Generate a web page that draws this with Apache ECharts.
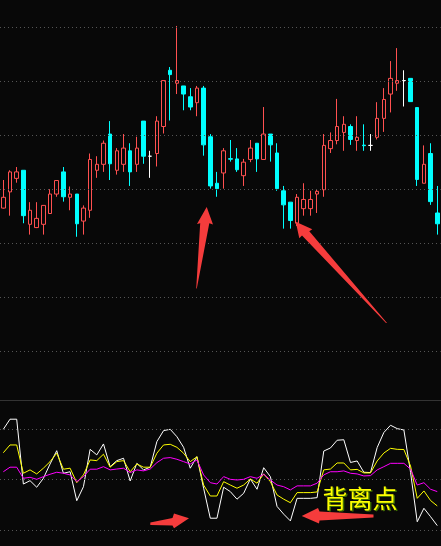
<!DOCTYPE html>
<html><head><meta charset="utf-8">
<script src="https://cdn.jsdelivr.net/npm/echarts@6/dist/echarts.min.js"></script>
<style>html,body{margin:0;padding:0;background:#080808;}#c{width:441px;height:546px;}</style>
</head><body><div id="c"></div>
<script>
const categories = ['1','2','3','4','5','6','7','8','9','10','11','12','13','14','15','16','17','18','19','20','21','22','23','24','25','26','27','28','29','30','31','32','33','34','35','36','37','38','39','40','41','42','43','44','45','46','47','48','49','50','51','52','53','54','55','56','57','58','59','60','61','62','63','64','65','66'];
const openPrices = [11.65,11.95,12.20,12.35,11.35,11.29,11.35,11.55,11.91,12.32,
  11.85,11.91,11.41,11.61,12.35,12.46,13.02,12.35,12.46,12.71,
  12.46,13.26,12.61,12.66,13.16,14.20,13.96,13.91,13.71,13.60,
  13.87,12.97,12.11,12.30,12.565,12.56,12.25,12.55,12.85,12.55,
  13.02,12.67,11.97,11.76,11.37,11.64,11.64,11.91,11.99,12.75,
  12.90,13.05,13.16,12.90,12.815,12.81,12.96,13.31,13.76,13.96,
  14.01,14.05,13.51,12.11,12.66,11.56];
const closePrices = [11.85,12.32,12.32,11.51,11.61,11.46,11.70,11.91,12.16,11.86,
  11.91,11.36,11.65,12.55,12.46,12.85,12.47,12.71,12.76,12.32,
  12.76,12.61,12.61,13.26,14.01,14.12,14.01,13.76,13.52,13.87,
  12.82,12.06,12.01,12.71,12.555,12.36,12.50,12.76,12.56,13.02,
  12.82,12.01,11.71,11.42,11.85,11.81,11.81,11.96,12.81,12.90,
  13.16,13.20,12.92,12.96,12.805,12.81,13.31,13.66,14.05,14.01,
  14.01,13.62,12.18,12.46,11.77,11.36];
const lowPrices = [11.64,11.51,12.12,11.37,11.16,11.28,11.16,11.55,11.86,11.77,
  11.61,11.12,11.16,11.47,12.21,12.32,12.17,12.27,12.32,12.06,
  12.32,12.47,12.21,12.42,13.03,13.27,13.76,13.46,13.46,13.35,
  12.62,12.01,11.86,12.01,12.51,12.32,12.06,12.50,12.32,12.55,
  12.51,11.97,11.27,11.27,11.32,11.51,11.51,11.56,11.86,12.67,
  12.83,12.71,12.82,12.71,12.71,12.71,12.92,13.06,13.42,13.82,
  13.53,13.62,12.06,12.11,11.71,11.16];
const highPrices = [12.17,12.35,12.41,12.35,11.76,11.76,11.70,12.00,12.16,12.41,
  12.05,11.91,11.70,12.66,12.61,12.90,13.26,12.76,13.02,12.85,
  12.97,13.26,12.71,13.35,14.01,14.26,15.02,13.91,13.87,13.91,
  13.91,13.02,12.32,12.76,12.91,12.76,12.56,12.91,12.85,13.52,
  13.02,12.85,12.06,11.76,11.91,12.11,11.97,12.00,13.02,13.05,
  13.67,13.35,13.20,13.35,13.20,13.02,13.61,13.87,14.37,14.61,
  14.20,14.05,13.51,12.81,12.85,12.06];
const whiteLine = [79.8,85.8,85.8,47.3,49.3,45.4,50.7,59.2,67.1,53.7,
  54.6,37.4,45.7,67.9,64.6,71.1,57.6,61.2,62.6,49.1,
  59.6,55.7,57.3,72.5,79.0,79.8,75.4,69.1,56.7,63.5,
  44.8,27.0,27.0,45.4,42.8,38.3,41.8,50.3,44.2,57.0,
  51.7,34.0,29.4,25.4,38.8,38.8,38.8,39.2,66.9,68.7,
  73.3,73.6,60.1,61.0,54.3,54.1,69.0,77.9,82.2,80.2,
  79.4,54.2,24.9,32.9,27.9,22.6];
const yellowLine = [65.9,70.5,70.5,53.7,55.7,53.3,56.7,60.6,65.6,56.1,
  56.7,48.1,52.7,61.6,61.2,65.0,57.3,60.6,61.2,54.6,
  59.2,57.3,57.3,65.6,70.5,70.9,69.1,65.6,60.6,63.5,
  46.7,40.2,40.2,48.7,46.7,44.8,46.7,50.3,47.8,53.3,
  48.7,40.8,38.3,36.2,42.2,42.2,42.2,42.6,55.7,56.2,
  59.8,59.8,55.7,56.0,53.9,53.9,61.0,65.7,68.5,67.9,
  67.8,58.0,38.8,43.2,37.5,34.3];
const magentaLine = [54.6,57.3,57.3,50.7,51.3,50.1,51.7,53.1,54.3,53.7,
  52.7,48.7,51.7,56.1,56.1,57.6,55.7,56.2,56.7,54.1,
  55.7,55.1,56.2,60.0,62.6,63.0,62.0,60.6,59.2,61.6,
  52.7,48.1,47.3,51.7,50.1,49.7,50.1,51.7,50.7,53.1,
  49.7,46.7,45.7,43.8,46.2,46.2,46.2,47.8,52.7,54.6,
  54.6,55.1,53.7,53.3,52.1,52.3,55.7,57.6,59.6,59.6,
  59.6,56.1,46.7,48.1,44.2,42.8];
const priceGridLevels = [9,10,11,12,13,14,15];
const indicatorGridLevels = [20,50,80];
const annotationText = '背离点';

const RED = '#ff5050', CYAN = '#00ffff', BG = '#080808', ARROW = '#f53c3c';
const candleData = categories.map((c, i) => {
  const v = [openPrices[i], closePrices[i], lowPrices[i], highPrices[i]];
  if (openPrices[i] === closePrices[i]) {
    return { value: v, itemStyle: { color: BG, color0: BG, borderColor: '#ffffff', borderColor0: '#ffffff' } };
  }
  return v;
});
const dotted = { color: '#555', type: [1, 3], width: 1 };
const chart = echarts.init(document.getElementById('c'), null, { renderer: 'canvas' });
chart.setOption({
  backgroundColor: BG,
  animation: false,
  grid: [
    { left: -2.4, width: 443, top: 0, height: 400 },
    { left: -2.4, width: 443, top: 400, height: 146 }
  ],
  xAxis: [
    { type: 'category', gridIndex: 0, data: categories, boundaryGap: true,
      axisLine: { show: true, lineStyle: { color: '#333', width: 1 } }, axisTick: { show: false }, axisLabel: { show: false }, splitLine: { show: false } },
    { type: 'category', gridIndex: 1, data: categories, boundaryGap: true,
      axisLine: { show: false }, axisTick: { show: false }, axisLabel: { show: false }, splitLine: { show: false } }
  ],
  yAxis: [
    { type: 'value', gridIndex: 0, min: 8.1, max: 15.5, axisLine: { show: false }, axisTick: { show: false }, axisLabel: { show: false }, splitLine: { show: false } },
    { type: 'value', gridIndex: 1, min: 10.5, max: 97.2, axisLine: { show: false }, axisTick: { show: false }, axisLabel: { show: false }, splitLine: { show: false } }
  ],
  series: [
    { type: 'line', xAxisIndex: 0, yAxisIndex: 0, data: [], silent: true, z: 1,
      markLine: { silent: true, symbol: ['none', 'none'], label: { show: false }, lineStyle: dotted,
        data: priceGridLevels.map(v => ({ yAxis: v })) } },
    { type: 'line', xAxisIndex: 1, yAxisIndex: 1, data: [], silent: true, z: 1,
      markLine: { silent: true, symbol: ['none', 'none'], label: { show: false }, lineStyle: dotted,
        data: indicatorGridLevels.map(v => ({ yAxis: v })) } },
    { type: 'candlestick', xAxisIndex: 0, yAxisIndex: 0, data: candleData, barWidth: 4, z: 3,
      itemStyle: { color: BG, color0: CYAN, borderColor: RED, borderColor0: CYAN, borderColorDoji: '#ffffff', borderWidth: 1 } },
    { type: 'line', xAxisIndex: 1, yAxisIndex: 1, data: whiteLine, symbol: 'none', z: 3,
      lineStyle: { color: '#ffffff', width: 1 } },
    { type: 'line', xAxisIndex: 1, yAxisIndex: 1, data: yellowLine, symbol: 'none', z: 4,
      lineStyle: { color: '#ffff00', width: 1 } },
    { type: 'line', xAxisIndex: 1, yAxisIndex: 1, data: magentaLine, symbol: 'none', z: 5,
      lineStyle: { color: '#ff00ff', width: 1 } }
  ],
  graphic: [
    { type: 'polygon', z: 100, shape: { points: [[206.7,207],[213,224.5],[209.3,223.2],[196.8,288.5],[196.2,288.5],[200.2,223.2],[197,224]] }, style: { fill: ARROW } },
    { type: 'polygon', z: 100, shape: { points: [[295.7,221.7],[312.3,229.3],[309.3,231.2],[387,323],[386,323],[302,235.5],[299.3,238.3]] }, style: { fill: ARROW } },
    { type: 'polygon', z: 100, shape: { points: [[150.3,522.5],[172.5,518],[174,513.5],[189,518.3],[174,528.3],[172.5,525.5],[150.3,525]] }, style: { fill: ARROW } },
    { type: 'polygon', z: 100, shape: { points: [[301.7,516],[318,508],[319.5,511.5],[373.5,514.5],[373.5,517.5],[319.5,520.5],[319,523.5]] }, style: { fill: ARROW } },
    { type: 'text', z: 100, x: 361.5, y: 499.5, style: { text: annotationText, font: '25px "Noto Sans CJK SC"', fill: '#3f6f00', textAlign: 'center', textVerticalAlign: 'middle', verticalAlign: 'middle' } },
    { type: 'text', z: 101, x: 360, y: 498.5, style: { text: annotationText, font: '25px "Noto Sans CJK SC"', fill: '#ffff00', textAlign: 'center', textVerticalAlign: 'middle', verticalAlign: 'middle' } }
  ]
});
</script></body></html>
